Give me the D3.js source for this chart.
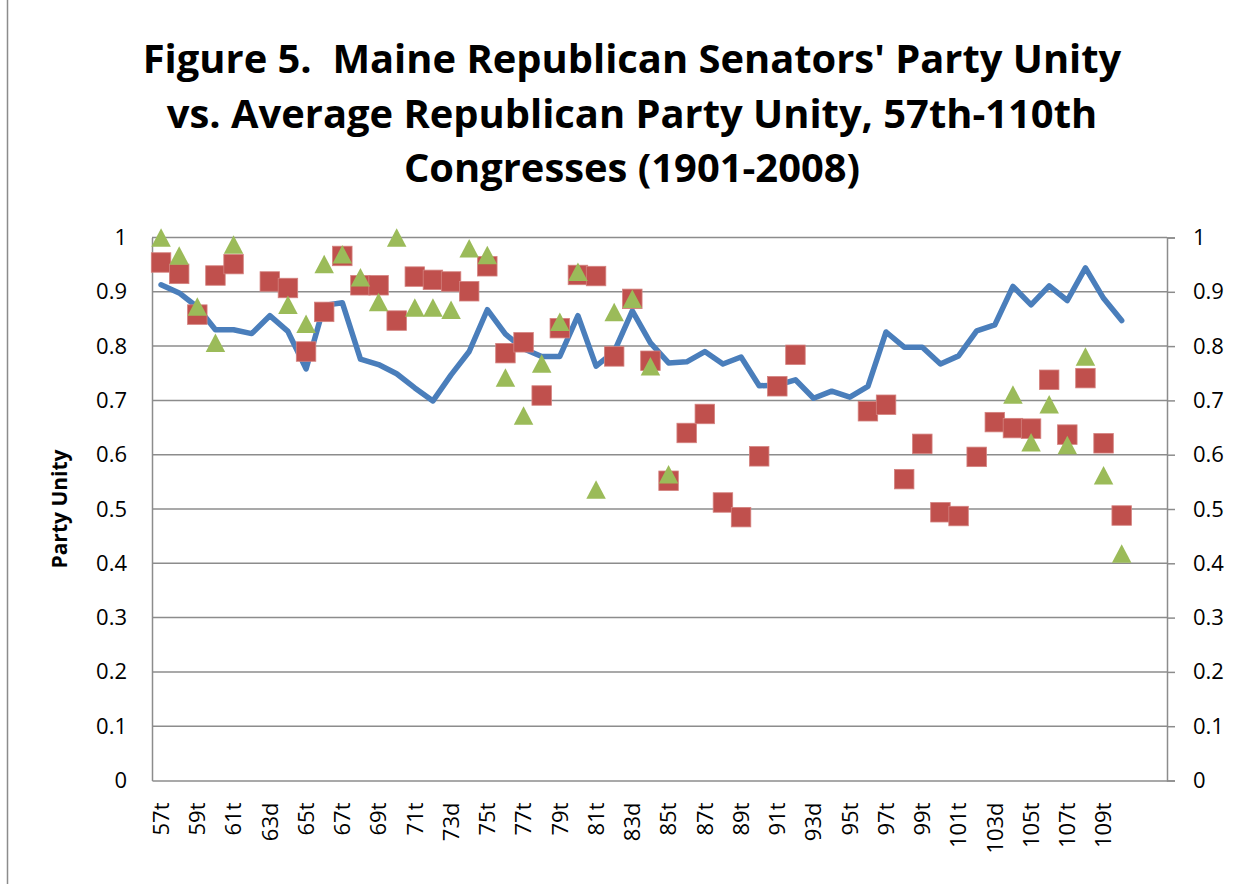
<!DOCTYPE html>
<html>
<head>
<meta charset="utf-8">
<script src="https://cdn.jsdelivr.net/npm/d3@7"></script>
<style>
  html, body { margin: 0; padding: 0; background: #fff; }
  svg { display: block; }
  text { font-family: "Open Sans", Lato, sans-serif; fill: #000; white-space: pre; }
</style>
</head>
<body>
<svg id="chart" width="1253" height="884"></svg>
<script>
// ---- DATA ----
const titleLines = [
  "Figure 5.  Maine Republican Senators' Party Unity",
  "vs. Average Republican Party Unity, 57th-110th",
  "Congresses (1901-2008)"
];
const yAxisTitle = "Party Unity";

// Congress labels, 57th..110th (the chart keeps two empty slots after the last one)
const categories = [
  "57t","58t","59t","60t","61t","62d","63d","64t","65t","66t",
  "67t","68t","69t","70t","71t","72d","73d","74t","75t","76t",
  "77t","78t","79t","80t","81t","82d","83d","84t","85t","86t",
  "87t","88t","89t","90t","91t","92d","93d","94t","95t","96t",
  "97t","98t","99t","100t","101t","102d","103d","104t","105t","106t",
  "107t","108t","109t","110t"
];
const emptySlots = 2;

// Average Republican party unity (blue line)
const avgRepublican = [
  0.913,0.898,0.872,0.830,0.830,0.823,0.856,0.827,0.758,0.875,
  0.880,0.776,0.766,0.749,0.723,0.699,0.747,0.790,0.867,0.822,
  0.795,0.781,0.781,0.856,0.763,0.790,0.865,0.806,0.769,0.771,
  0.790,0.767,0.780,0.727,0.728,0.738,0.704,0.717,0.706,0.726,
  0.826,0.798,0.798,0.767,0.782,0.828,0.839,0.910,0.876,0.911,
  0.884,0.944,0.888,0.847
];

// Maine senator, seat 1 (red squares)
const maineSeat1 = [
  0.954,0.933,0.858,0.930,0.951,null,0.919,0.907,0.790,0.863,
  0.966,0.912,0.912,0.847,0.928,0.922,0.919,0.901,0.947,0.787,
  0.807,0.709,0.833,0.931,0.929,0.781,0.887,0.773,0.552,0.640,
  0.675,0.512,0.485,0.597,0.726,0.784,null,null,null,0.680,
  0.692,0.555,0.620,0.494,0.487,0.596,0.660,0.649,0.648,0.738,
  0.637,0.741,0.621,0.488
];

// Maine senator, seat 2 (green triangles)
const maineSeat2 = [
  1.000,0.967,0.873,0.806,0.987,null,null,0.876,0.841,0.951,
  0.969,0.927,0.881,1.000,0.871,0.871,0.867,0.980,0.968,0.742,
  0.672,0.768,0.845,0.937,0.536,0.863,0.887,0.763,0.564,null,
  null,null,null,null,null,null,null,null,null,null,
  null,null,null,null,null,null,null,0.711,0.623,0.693,
  0.618,0.781,0.562,0.418
];

const yTicks = [0,0.1,0.2,0.3,0.4,0.5,0.6,0.7,0.8,0.9,1];
const yTickLabels = ["0","0.1","0.2","0.3","0.4","0.5","0.6","0.7","0.8","0.9","1"];

// ---- LAYOUT ----
const W = 1253, H = 884;
const plot = { left: 152, right: 1167, top: 237.5, bottom: 780.5 };
const gridColor = "#8c8c8c";
const colors = { line: "#4A7EBB", square: "#C0504D", triangle: "#9BBB59" };
const FONT = "'Open Sans', Lato, sans-serif";

const svg = d3.select("#chart");

// outer frame (left edge visible)
svg.append("line")
  .attr("x1", 7.5).attr("x2", 7.5).attr("y1", 0).attr("y2", H)
  .attr("stroke", "#8c8c8c").attr("stroke-width", 1.5);

// title
const title = svg.append("g");
const titleBaselines = [73, 127.5, 182];
const titleTexts = titleLines.map((t, i) =>
  title.append("text")
    .attr("x", 632).attr("y", titleBaselines[i])
    .attr("text-anchor", "middle")
    .attr("font-weight", "bold")
    .attr("font-size", 35)
    .attr("xml:space", "preserve")
    .text(t)
);
// fit first line to the width it occupies in the reference
const w0 = titleTexts[0].node().getComputedTextLength();
if (w0 > 0) {
  const fs = Math.max(30, Math.min(40, 35 * 979 / w0));
  titleTexts.forEach(t => t.attr("font-size", fs));
}

// scales
const idx = d3.range(categories.length + emptySlots);
const x = d3.scaleBand().domain(idx).range([plot.left, plot.right]).paddingInner(0).paddingOuter(0);
const cx = i => x(i) + x.bandwidth() / 2;
const y = d3.scaleLinear().domain([0, 1]).range([plot.bottom, plot.top]);

// gridlines
svg.append("g")
  .selectAll("line")
  .data(yTicks.filter(d => d > 0))
  .join("line")
  .attr("x1", plot.left).attr("x2", plot.right)
  .attr("y1", d => y(d)).attr("y2", d => y(d))
  .attr("stroke", gridColor).attr("stroke-width", 1.5);

// left axis
const leftAxis = d3.axisLeft(y).tickValues(yTicks).tickSize(0).tickPadding(25)
  .tickFormat((d, i) => yTickLabels[i]);
const gl = svg.append("g").attr("transform", `translate(${plot.left},0)`).call(leftAxis);
gl.select(".domain").attr("stroke", gridColor).attr("stroke-width", 1.5);
gl.selectAll("text").attr("font-size", 22).attr("font-family", FONT).attr("fill", "#000");

// right axis
const rightAxis = d3.axisRight(y).tickValues(yTicks).tickSize(8).tickPadding(18)
  .tickFormat((d, i) => yTickLabels[i]);
const gr = svg.append("g").attr("transform", `translate(${plot.right},0)`).call(rightAxis);
gr.select(".domain").attr("stroke", gridColor).attr("stroke-width", 1.5);
gr.selectAll(".tick line").attr("stroke", gridColor).attr("stroke-width", 1.5);
gr.selectAll("text").attr("font-size", 22).attr("font-family", FONT).attr("fill", "#000");

// bottom axis
const bottomAxis = d3.axisBottom(x)
  .tickValues(idx.filter(i => i < categories.length && i % 2 === 0))
  .tickSize(0)
  .tickFormat(i => categories[i]);
const gb = svg.append("g").attr("transform", `translate(0,${plot.bottom})`).call(bottomAxis);
gb.select(".domain").attr("stroke", gridColor).attr("stroke-width", 1.5);
gb.selectAll("text")
  .attr("font-size", 22).attr("font-family", FONT).attr("fill", "#000")
  .attr("text-anchor", "end")
  .attr("transform", "translate(0,22) rotate(-90)")
  .attr("x", 0).attr("y", 0).attr("dy", "0.35em");

// y axis title
svg.append("text")
  .attr("transform", `translate(67,${(plot.top + plot.bottom) / 2}) rotate(-90)`)
  .attr("text-anchor", "middle")
  .attr("font-weight", "bold")
  .attr("font-size", 21)
  .text(yAxisTitle);

// average line
const line = d3.line()
  .defined(d => d != null)
  .x((d, i) => cx(i))
  .y(d => y(d));
svg.append("path")
  .datum(avgRepublican)
  .attr("d", line)
  .attr("fill", "none")
  .attr("stroke", colors.line)
  .attr("stroke-width", 5.5)
  .attr("stroke-linejoin", "round")
  .attr("stroke-linecap", "round");

// squares
const sq = 19.5;
svg.append("g")
  .selectAll("rect")
  .data(maineSeat1.map((v, i) => ({ v, i })).filter(d => d.v != null))
  .join("rect")
  .attr("x", d => cx(d.i) - sq / 2)
  .attr("y", d => y(d.v) - sq / 2)
  .attr("width", sq).attr("height", sq)
  .attr("fill", colors.square)
  .attr("stroke", "#d4827f").attr("stroke-width", 0.8);

// triangles
const tw = 19.5, th = 18.5;
svg.append("g")
  .selectAll("path")
  .data(maineSeat2.map((v, i) => ({ v, i })).filter(d => d.v != null))
  .join("path")
  .attr("d", d => {
    const px = cx(d.i), py = y(d.v);
    return `M${px},${py - th / 2}L${px + tw / 2},${py + th / 2}L${px - tw / 2},${py + th / 2}Z`;
  })
  .attr("fill", colors.triangle);
</script>
</body>
</html>
